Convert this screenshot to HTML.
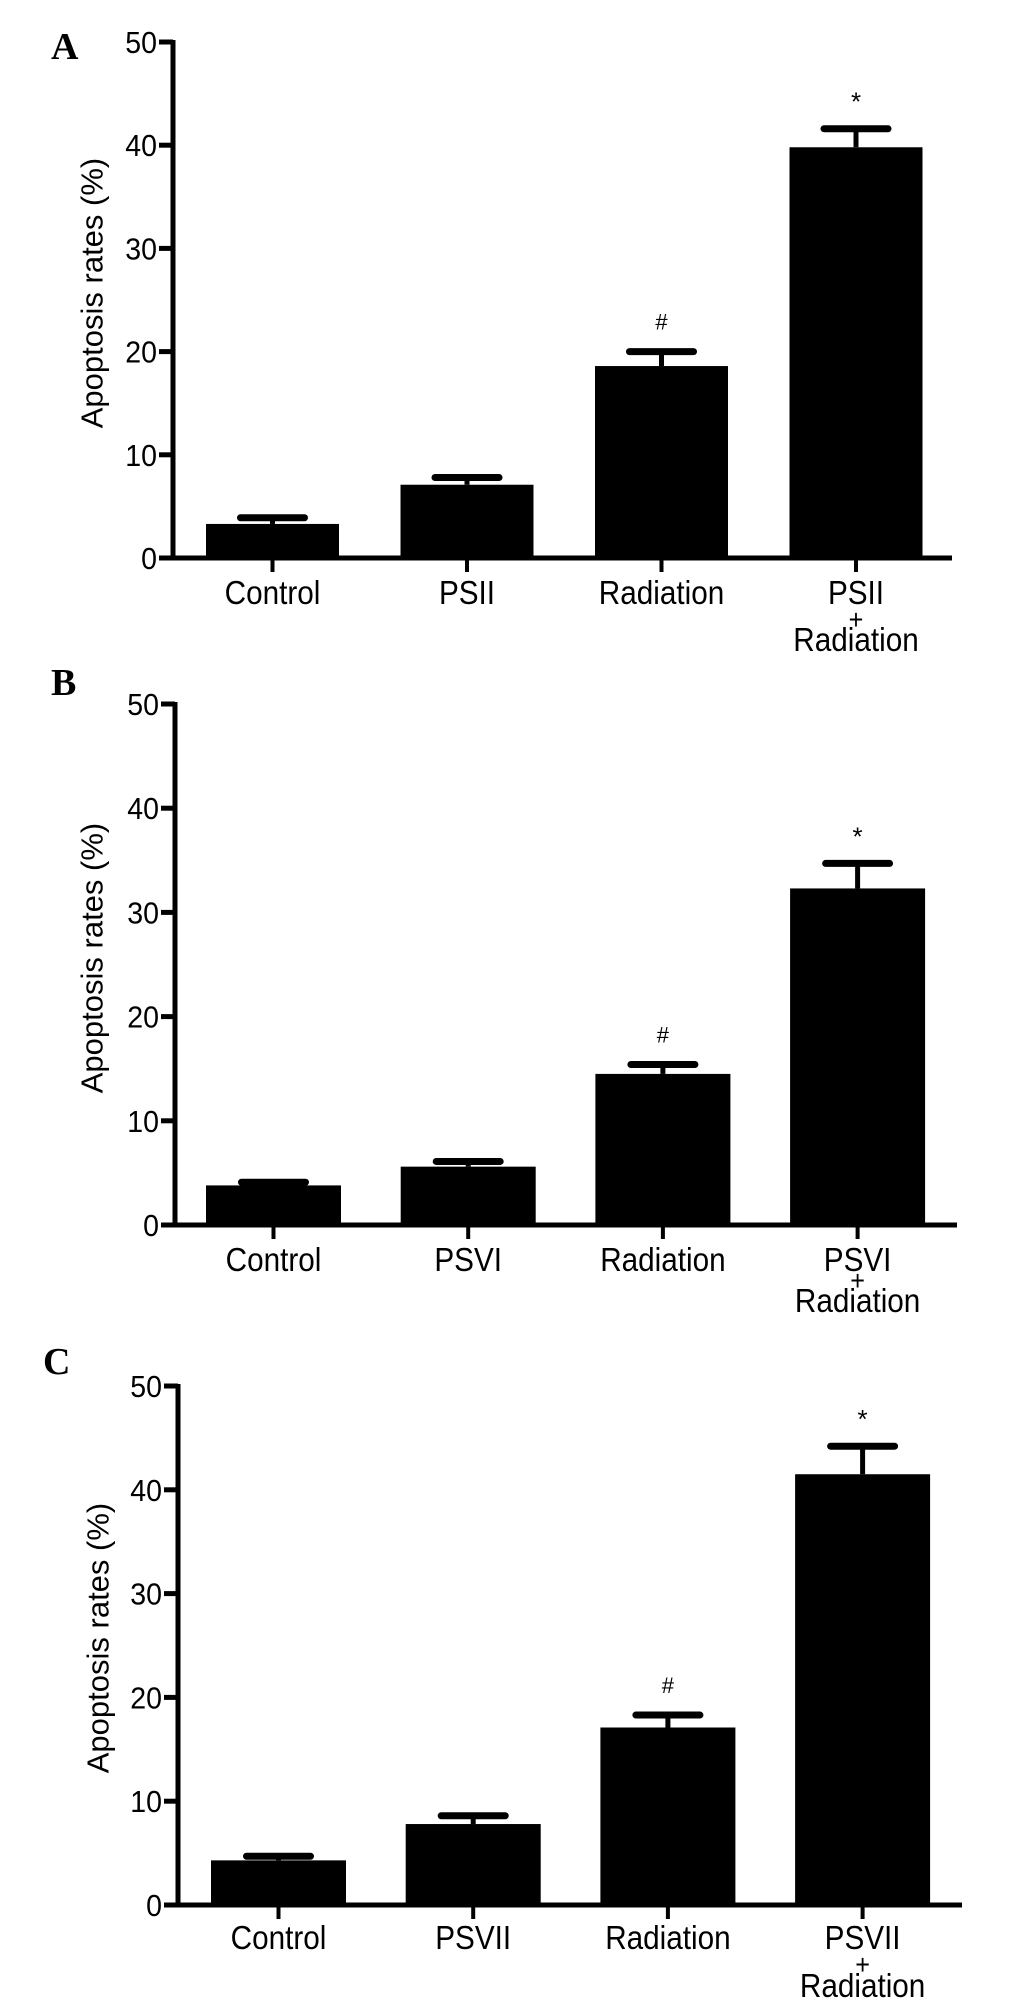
<!DOCTYPE html>
<html><head><meta charset="utf-8"><style>
html,body{margin:0;padding:0;background:#fff;}
svg{display:block;}
text{font-family:"Liberation Sans",Arial,sans-serif;fill:#000;}
.pl{font-family:"Liberation Serif",serif;font-weight:bold;font-size:38px;}
</style></head><body>
<svg id="fig" width="1033" height="2014" viewBox="0 0 1033 2014" xmlns="http://www.w3.org/2000/svg"></svg>
<script>
const panelLetters = ["A", "B", "C"];
const categoriesA = ["Control", "PSII", "Radiation", "PSII|+|Radiation"];
const categoriesB = ["Control", "PSVI", "Radiation", "PSVI|+|Radiation"];
const categoriesC = ["Control", "PSVII", "Radiation", "PSVII|+|Radiation"];
const valuesA = [3.3, 7.1, 18.6, 39.8];
const errorsA = [0.6, 0.7, 1.4, 1.8];
const valuesB = [3.8, 5.6, 14.5, 32.3];
const errorsB = [0.3, 0.5, 0.9, 2.4];
const valuesC = [4.3, 7.8, 17.1, 41.5];
const errorsC = [0.4, 0.8, 1.2, 2.7];
const marksA = ["", "", "#", "*"];
const marksB = ["", "", "#", "*"];
const marksC = ["", "", "#", "*"];
const yTicks = [0, 10, 20, 30, 40, 50];

const layouts = [
  {ax:173, xEnd:952, y0:558, y50:42, bar0:206, step:194.5, bw:133, labY:[592,617,639], letterX:51, letterY:59, titleX:92, titleY:293},
  {ax:175, xEnd:957, y0:1225, y50:704, bar0:206, step:194.7, bw:135, labY:[1259,1278,1300], letterX:51, letterY:695, titleX:92, titleY:958},
  {ax:178, xEnd:962, y0:1905, y50:1386, bar0:211, step:194.7, bw:135, labY:[1937,1962,1985], letterX:43, letterY:1374, titleX:98, titleY:1638}
];
const datasets = [
  {cats:categoriesA, vals:valuesA, errs:errorsA, marks:marksA},
  {cats:categoriesB, vals:valuesB, errs:errorsB, marks:marksB},
  {cats:categoriesC, vals:valuesC, errs:errorsC, marks:marksC}
];
const svg = document.getElementById('fig');
const NS = "http://www.w3.org/2000/svg";
function mk(tag, attrs, parent){
  const e = document.createElementNS(NS, tag);
  for (const k in attrs) e.setAttribute(k, attrs[k]);
  parent.appendChild(e);
  return e;
}
layouts.forEach((L, p) => {
  const D = datasets[p];
  const g = mk('g', {}, svg);
  
  
  const yScale = v => L.y0 - (v / 50) * (L.y0 - L.y50);
  const letter = mk('text', {x:L.letterX, y:L.letterY, class:'pl'}, g);
  letter.textContent = panelLetters[p];
  
  
  const title = mk('text', {x:L.titleX, y:L.titleY, 'font-size':31, 'text-anchor':'middle', transform:`rotate(-90 ${L.titleX} ${L.titleY})`, 'dominant-baseline':'central'}, g);
  title.textContent = "Apoptosis rates (%)";
  
  
  D.vals.forEach((v, i) => {
    const x = L.bar0 + i * L.step;
    const cx = x + L.bw / 2;
    const top = yScale(v);
    const bar = mk('rect', {x:x, y:top, width:L.bw, height:L.y0 - top, fill:'#000'}, g);
    
    
    const et = yScale(v + D.errs[i]);
    const stem = mk('line', {x1:cx, x2:cx, y1:top, y2:et, stroke:'#000', 'stroke-width':5}, g);
    
    
    const cap = mk('line', {x1:cx - 32, x2:cx + 32, y1:et, y2:et, stroke:'#000', 'stroke-width':7, 'stroke-linecap':'round'}, g);
    
    
    if (D.marks[i]) {
      const isStar = D.marks[i] === '*';
      const m = mk('text', {x:cx, y:et - (isStar ? 18 : 22), 'font-size':isStar ? 26 : 22, 'text-anchor':'middle', 'font-family':'Liberation Serif, serif'}, g);
      m.textContent = D.marks[i];
      
      
    }
    const xt = mk('line', {x1:cx, x2:cx, y1:L.y0, y2:L.y0 + 14, stroke:'#000', 'stroke-width':4}, g);
    
    
    const parts = D.cats[i].split('|');
    parts.forEach((t, k) => {
      const ly = L.labY[k] + 12;
      const lab = mk('text', {x:0, y:0, 'font-size':t === '+' ? 28 : 33, 'text-anchor':'middle', transform:`translate(${cx} ${ly}) scale(0.9 1)`}, g);
      lab.textContent = t;
      
      
    });
  });
  const ya = mk('line', {x1:L.ax, x2:L.ax, y1:L.y50 - 2, y2:L.y0 + 2, stroke:'#000', 'stroke-width':5}, g);
  
  
  const xa = mk('line', {x1:L.ax - 14, x2:L.xEnd, y1:L.y0, y2:L.y0, stroke:'#000', 'stroke-width':5}, g);
  
  
  yTicks.forEach(t => {
    const y = yScale(t);
    const tk = mk('line', {x1:L.ax - 14, x2:L.ax, y1:y, y2:y, stroke:'#000', 'stroke-width':5}, g);
    
    
    const tl = mk('text', {x:0, y:0, 'font-size':31, 'text-anchor':'end', transform:`translate(${L.ax - 16} ${y + 11}) scale(0.92 1)`}, g);
    tl.textContent = t;
    
    
  });
});
</script>
</body></html>
